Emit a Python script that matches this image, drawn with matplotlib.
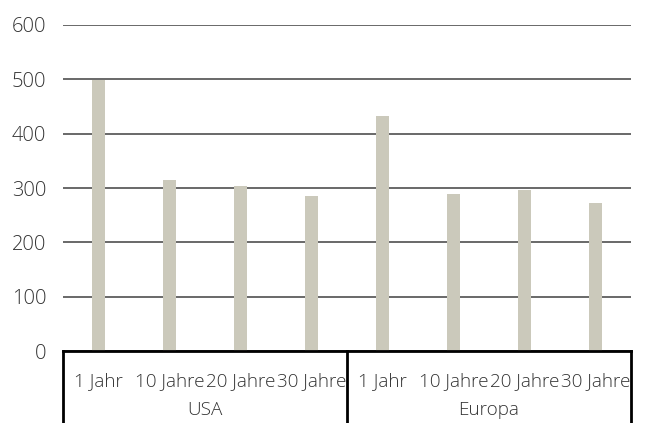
import matplotlib.pyplot as plt
import matplotlib.transforms as mtransforms

# Daten
zeitraeume = ['1 Jahr', '10 Jahre', '20 Jahre', '30 Jahre']
regionen = ['USA', 'Europa']
usa = [499, 314, 304, 286]
europa = [433, 289, 297, 273]

werte = usa + europa
labels = zeitraeume * len(regionen)
pos = list(range(len(werte)))

plt.rcParams['font.family'] = ['Open Sans', 'DejaVu Sans']
textfarbe = '#333333'

fig = plt.figure(figsize=(6.55, 4.23), dpi=100)
ax = fig.add_axes([63/655, 72/423, 568/655, 326/423])

ax.bar(pos, werte, width=0.17, color='#CBC9BB', zorder=3)

ax.set_xlim(-0.5, len(werte) - 0.5)
ax.set_ylim(0, 600)
ax.set_yticks([0, 100, 200, 300, 400, 500, 600])
ax.yaxis.grid(True, color='#404040', linewidth=1.1, zorder=0)
ax.tick_params(axis='y', length=0, pad=12, labelsize=14.5, labelcolor=textfarbe)
for t in ax.get_yticklabels():
    t.set_fontweight('light')
ax.set_xticks([])
for s in ax.spines.values():
    s.set_visible(False)

trans = mtransforms.blended_transform_factory(ax.transData, ax.transAxes)
unten = -72/326

# Kategorien-Beschriftung
for x, lab in zip(pos, labels):
    ax.text(x, -0.093, lab, transform=trans, ha='center', va='center',
            fontsize=13.6, color=textfarbe, fontweight='light')
n = len(zeitraeume)
for i, reg in enumerate(regionen):
    mitte = i * n + (n - 1) / 2
    ax.text(mitte, -0.18, reg, transform=trans, ha='center', va='center',
            fontsize=13.6, color=textfarbe, fontweight='light')

# Rahmen unten
ax.plot([-0.5, len(werte) - 0.5], [0, 0], transform=trans, color='black',
        linewidth=2, clip_on=False, zorder=5)
for i in range(len(regionen) + 1):
    x = i * n - 0.5
    ax.plot([x, x], [0, unten], transform=trans, color='black',
            linewidth=2, clip_on=False, zorder=5)

plt.savefig('out.png', dpi=100)
